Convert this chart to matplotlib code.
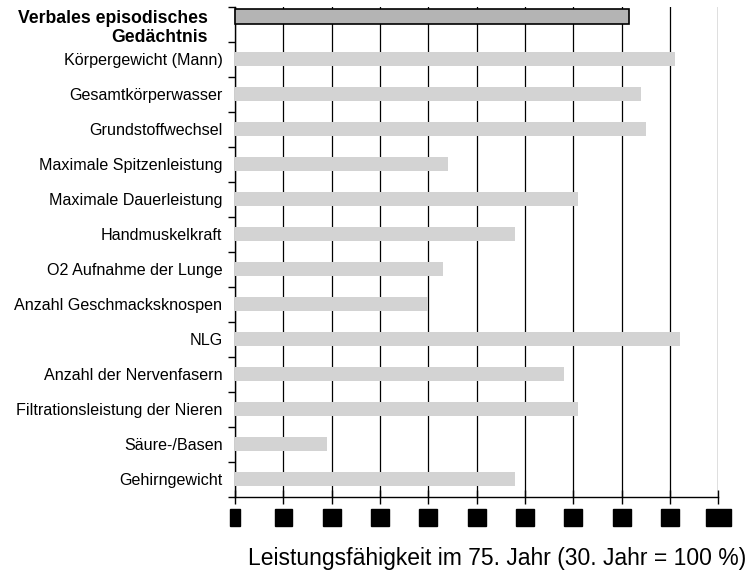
import numpy as np
import matplotlib.pyplot as plt
from matplotlib.ticker import MultipleLocator

# data
labels = ["Verbales episodisches\nGedächtnis", "Körpergewicht (Mann)", "Gesamtkörperwasser",
          "Grundstoffwechsel", "Maximale Spitzenleistung", "Maximale Dauerleistung",
          "Handmuskelkraft", "O2 Aufnahme der Lunge", "Anzahl Geschmacksknospen", "NLG",
          "Anzahl der Nervenfasern", "Filtrationsleistung der Nieren", "Säure-/Basen",
          "Gehirngewicht"]
values = [81.5, 91, 84, 85, 44, 71, 58, 43, 40, 92, 68, 71, 19, 58]
xticks = [0, 10, 20, 30, 40, 50, 60, 70, 80, 90, 100]
xlabel = "Leistungsfähigkeit im 75. Jahr (30. Jahr = 100 %)"

plt.rcParams['font.family'] = ['Liberation Sans', 'DejaVu Sans']

fig = plt.figure(figsize=(7.51, 5.74), dpi=100)
ax = fig.add_axes([235/751, 1-496.7/574, (718.3-235)/751, (496.7-6.7)/574])

pos = np.arange(len(labels))
# highlighted first bar sits in the upper part of its slot
ax.barh(pos[0] - 0.23, values[0], height=0.43, color='#b4b4b4',
        edgecolor='black', linewidth=1.2, zorder=3, clip_on=False)
ax.barh(pos[1:], values[1:], height=0.4, color='#d3d3d3', zorder=3)

ax.set_xlim(0, 100)
ax.set_ylim(len(labels) - 0.5, -0.5)
ax.set_xticks(xticks)
ax.set_xticklabels([str(t) for t in xticks])
ax.xaxis.grid(True, color='black', linewidth=0.9, zorder=0)
ax.set_axisbelow(True)

ax.set_yticks(pos)
ax.set_yticklabels([""] + labels[1:], fontsize=11.6)
ax.yaxis.set_minor_locator(MultipleLocator(1, offset=0.5))
ax.tick_params(axis='y', which='major', length=0, pad=9)
ax.tick_params(axis='y', which='minor', length=5, width=1, direction='out')
ax.tick_params(axis='x', direction='inout', length=10, width=1, pad=5)
for t in ax.get_xticklabels():
    t.set_fontsize(10)
    t.set_bbox(dict(boxstyle='square,pad=0.08', facecolor='black', edgecolor='black'))

# bold two-line label, a bit left of and below the other labels
ax.annotate(labels[0], xy=(0, pos[0]), xycoords=('axes fraction', 'data'),
            xytext=(-27, -4), textcoords='offset pixels', ha='right', va='center',
            multialignment='right', fontsize=12.7, fontweight='bold', linespacing=1.12)

for s in ['top', 'right']:
    ax.spines[s].set_visible(False)
for s in ['left', 'bottom']:
    ax.spines[s].set_color('black')
    ax.spines[s].set_linewidth(1)

fig.text(497/751, 1-558/574, xlabel, ha='center', va='center', fontsize=16.5)

fig.savefig('out.png', dpi=100)
